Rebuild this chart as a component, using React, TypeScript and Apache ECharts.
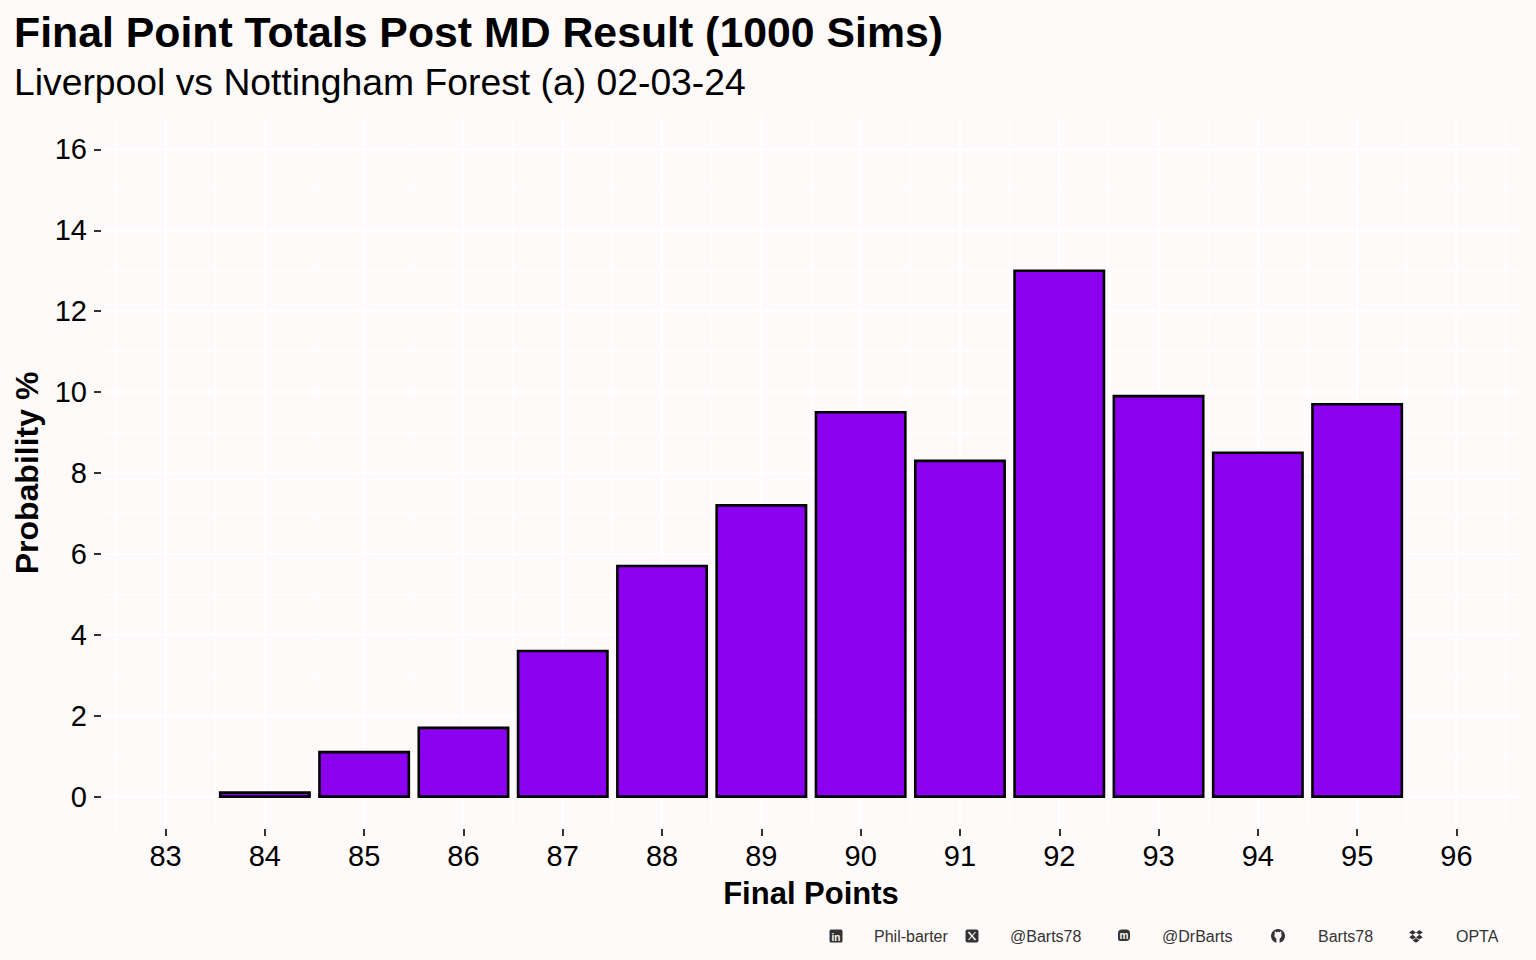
import React, { useEffect, useRef } from "react";
import * as echarts from "echarts";

const points = [84, 85, 86, 87, 88, 89, 90, 91, 92, 93, 94, 95];
const probability = [0.1, 1.1, 1.7, 3.6, 5.7, 7.2, 9.5, 8.3, 13.0, 9.9, 8.5, 9.7];
const xTicks = [83, 84, 85, 86, 87, 88, 89, 90, 91, 92, 93, 94, 95, 96];
const yTicks = [0, 2, 4, 6, 8, 10, 12, 14, 16];
const captionItems = [
  { icon: "linkedin", label: "Phil-barter" },
  { icon: "x", label: "@Barts78" },
  { icon: "mastodon", label: "@DrBarts" },
  { icon: "github", label: "Barts78" },
  { icon: "dropbox", label: "OPTA" },
];

const TITLE = "Final Point Totals Post MD Result (1000 Sims)";
const SUBTITLE = "Liverpool vs Nottingham Forest (a) 02-03-24";
const X_TITLE = "Final Points";
const Y_TITLE = "Probability %";

const FONT = "'Liberation Sans', Arial, Helvetica, sans-serif";
const BG = "#fffafa";
const BAR = "#8b00ee";
const INK = "#333333";

function buildGridLines() {
  const lines: number[][] = [];
  // [orientation (0 vertical / 1 horizontal), value, major(1)/minor(0)]
  xTicks.forEach((t) => lines.push([0, t - 0.5, 0]));
  lines.push([0, xTicks[xTicks.length - 1] + 0.5, 0]);
  for (let i = 0; i < yTicks.length - 1; i++) {
    lines.push([1, (yTicks[i] + yTicks[i + 1]) / 2, 0]);
  }
  xTicks.forEach((t) => lines.push([0, t, 1]));
  yTicks.forEach((t) => lines.push([1, t, 1]));
  return lines;
}

function iconGraphic(kind: string, cx: number, cy: number) {
  const s = 13;
  const x0 = cx - s / 2;
  const y0 = cy - s / 2;
  if (kind === "linkedin") {
    return {
      type: "group",
      children: [
        { type: "rect", shape: { x: x0, y: y0, width: s, height: s, r: 1.5 }, style: { fill: INK } },
        { type: "text", x: cx, y: cy + 1, style: { text: "in", fill: BG, font: `bold 10px ${FONT}`, align: "center", verticalAlign: "middle" } },
      ],
    };
  }
  if (kind === "x") {
    return {
      type: "group",
      children: [
        { type: "rect", shape: { x: x0, y: y0, width: s, height: s, r: 2 }, style: { fill: INK } },
        { type: "line", shape: { x1: cx - 3.5, y1: cy - 4, x2: cx + 3.5, y2: cy + 4 }, style: { stroke: BG, lineWidth: 1.6 } },
        { type: "line", shape: { x1: cx + 3.5, y1: cy - 4, x2: cx - 3.5, y2: cy + 4 }, style: { stroke: BG, lineWidth: 1.1 } },
      ],
    };
  }
  if (kind === "mastodon") {
    return {
      type: "group",
      children: [
        { type: "rect", shape: { x: x0 + 0.5, y: y0, width: s - 1, height: s - 1.5, r: [4, 4, 4, 2] }, style: { fill: INK } },
        { type: "text", x: cx, y: cy - 1, style: { text: "m", fill: BG, font: `bold 10px ${FONT}`, align: "center", verticalAlign: "middle" } },
      ],
    };
  }
  if (kind === "github") {
    return {
      type: "group",
      children: [
        { type: "circle", shape: { cx, cy, r: 7 }, style: { fill: INK } },
        { type: "circle", shape: { cx, cy: cy - 0.5, r: 3.6 }, style: { fill: BG } },
        { type: "polygon", shape: { points: [[cx - 3.5, cy - 2], [cx - 3.2, cy - 5], [cx - 1.2, cy - 3.4]] }, style: { fill: BG } },
        { type: "polygon", shape: { points: [[cx + 3.5, cy - 2], [cx + 3.2, cy - 5], [cx + 1.2, cy - 3.4]] }, style: { fill: BG } },
        { type: "rect", shape: { x: cx - 1.6, y: cy + 2, width: 3.2, height: 5 }, style: { fill: BG } },
      ],
    };
  }
  // dropbox
  const d = (ox: number, oy: number) => ({
    type: "polygon",
    shape: { points: [[ox, oy - 2.4], [ox + 3.4, oy], [ox, oy + 2.4], [ox - 3.4, oy]] },
    style: { fill: INK },
  });
  return {
    type: "group",
    children: [d(cx - 3.4, cy - 3.6), d(cx + 3.4, cy - 3.6), d(cx - 3.4, cy + 1.2), d(cx + 3.4, cy + 1.2), d(cx, cy + 4.4)],
  };
}

export default function App() {
  const ref = useRef<HTMLDivElement>(null);

  useEffect(() => {
    if (!ref.current) return;
    const chart = echarts.init(ref.current, null, { renderer: "svg" });

    const barData = points.map((p, i) => [p, probability[i]]);
    const gridLines = buildGridLines();

    const captionXs = [
      { icon: 836, text: 874 },
      { icon: 972, text: 1010 },
      { icon: 1124, text: 1162 },
      { icon: 1278, text: 1318 },
      { icon: 1416, text: 1456 },
    ];
    const captionY = 936;
    const captionGraphics: any[] = [];
    captionItems.forEach((c, i) => {
      captionGraphics.push(iconGraphic(c.icon, captionXs[i].icon, captionY));
      captionGraphics.push({
        type: "text",
        x: captionXs[i].text,
        y: captionY,
        style: { text: c.label, fill: INK, font: `16px ${FONT}`, align: "left", verticalAlign: "middle" },
      });
    });

    const option: any = {
      animation: false,
      backgroundColor: BG,
      textStyle: { fontFamily: FONT },
      grid: { left: 101, right: 15, top: 117, bottom: 131, containLabel: false },
      xAxis: {
        type: "value",
        min: 82.35,
        max: 96.65,
        axisLine: { show: false, onZero: false },
        splitLine: { show: false },
        axisTick: { show: true, length: 7, customValues: xTicks, lineStyle: { color: INK, width: 2 } },
        axisLabel: { customValues: xTicks, fontSize: 29, color: "#000", margin: 12, fontFamily: FONT },
      },
      yAxis: {
        type: "value",
        min: -0.8,
        max: 16.8,
        axisLine: { show: false, onZero: false },
        splitLine: { show: false },
        axisTick: { show: true, length: 7, customValues: yTicks, lineStyle: { color: INK, width: 2 } },
        axisLabel: { customValues: yTicks, fontSize: 29, color: "#000", margin: 14, fontFamily: FONT },
      },
      graphic: [
        { type: "text", x: 14, y: 32, style: { text: TITLE, fill: "#000", font: `bold 42.8px ${FONT}`, align: "left", verticalAlign: "middle" } },
        { type: "text", x: 14, y: 82, style: { text: SUBTITLE, fill: "#000", font: `37.3px ${FONT}`, align: "left", verticalAlign: "middle" } },
        { type: "text", x: 811, y: 893, style: { text: X_TITLE, fill: "#000", font: `bold 31px ${FONT}`, align: "center", verticalAlign: "middle" } },
        { type: "text", x: 27, y: 473, rotation: Math.PI / 2, style: { text: Y_TITLE, fill: "#000", font: `bold 32px ${FONT}`, align: "center", verticalAlign: "middle" } },
        ...captionGraphics,
      ],
      series: [
        {
          type: "custom",
          z: 1,
          silent: true,
          clip: false,
          data: gridLines,
          encode: { x: 1, y: 1 },
          renderItem: (params: any, api: any) => {
            const cs = params.coordSys;
            const orient = api.value(0);
            const v = api.value(1);
            const major = api.value(2) === 1;
            const style = { stroke: "#ffffff", lineWidth: major ? 2 : 1 };
            if (orient === 0) {
              const px = api.coord([v, 0])[0];
              return { type: "line", shape: { x1: px, y1: cs.y, x2: px, y2: cs.y + cs.height }, style };
            }
            const py = api.coord([83, v])[1];
            return { type: "line", shape: { x1: cs.x, y1: py, x2: cs.x + cs.width, y2: py }, style };
          },
        },
        {
          type: "custom",
          z: 2,
          data: barData,
          encode: { x: 0, y: 1 },
          renderItem: (params: any, api: any) => {
            const x = api.value(0);
            const y = api.value(1);
            const p0 = api.coord([x - 0.45, y]);
            const p1 = api.coord([x + 0.45, 0]);
            return {
              type: "rect",
              shape: { x: p0[0], y: p0[1], width: p1[0] - p0[0], height: p1[1] - p0[1] },
              style: { fill: BAR, stroke: "#000000", lineWidth: 2.6 },
            };
          },
        },
      ],
    };

    chart.setOption(option);
    return () => chart.dispose();
  }, []);

  return <div ref={ref} style={{ width: 1536, height: 960, position: "absolute", left: 0, top: 0 }} />;
}
